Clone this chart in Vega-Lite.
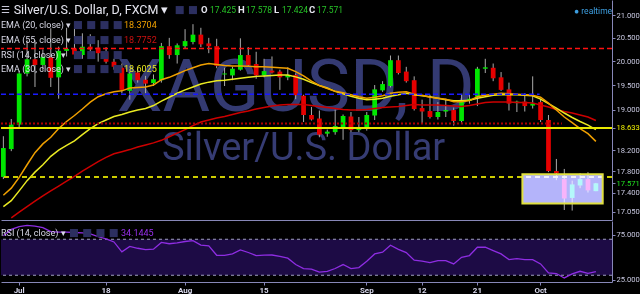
{
"$schema": "https://vega.github.io/schema/vega-lite/v6.json",
"background": "#000000",
"padding": 0,
"spacing": 0,
"config": {"view": {"stroke": null}, "font": "Roboto", "axis": {"labelFont": "Roboto", "grid": false, "title": null, "domainColor": "#8787b8", "tickColor": "#8787b8", "labelColor": "#c8c8e0", "labelFontSize": 7.6}},
"resolve": {"scale": {"x": "independent", "y": "independent"}},
"datasets": {"bars": [
{"d":"2016-06-29","o":17.69,"h":18.47,"l":17.65,"c":18.24,"e20":17.35,"e30":17.14,"e55":null,"rsi":74},
{"d":"2016-06-30","o":18.22,"h":18.81,"l":18.18,"c":18.70,"e20":17.48,"e30":17.25,"e55":16.94,"rsi":81},
{"d":"2016-07-01","o":18.70,"h":19.80,"l":18.62,"c":19.74,"e20":17.68,"e30":17.43,"e55":17.04,"rsi":84},
{"d":"2016-07-04","o":19.74,"h":20.45,"l":19.68,"c":20.04,"e20":17.92,"e30":17.62,"e55":17.14,"rsi":85.5},
{"d":"2016-07-05","o":20.04,"h":20.45,"l":19.46,"c":19.92,"e20":18.15,"e30":17.78,"e55":17.24,"rsi":84.5},
{"d":"2016-07-06","o":19.92,"h":20.25,"l":19.80,"c":20.09,"e20":18.32,"e30":17.92,"e55":17.34,"rsi":83},
{"d":"2016-07-07","o":20.08,"h":20.71,"l":19.46,"c":19.65,"e20":18.45,"e30":18.08,"e55":17.43,"rsi":78.5},
{"d":"2016-07-08","o":19.66,"h":20.31,"l":19.22,"c":20.22,"e20":18.62,"e30":18.20,"e55":17.52,"rsi":78},
{"d":"2016-07-11","o":20.22,"h":20.72,"l":20.10,"c":20.26,"e20":18.76,"e30":18.29,"e55":17.61,"rsi":78},
{"d":"2016-07-12","o":20.27,"h":20.85,"l":20.05,"c":20.14,"e20":18.88,"e30":18.38,"e55":17.70,"rsi":77.5},
{"d":"2016-07-13","o":20.13,"h":20.60,"l":20.05,"c":20.31,"e20":19.01,"e30":18.50,"e55":17.80,"rsi":77},
{"d":"2016-07-14","o":20.31,"h":20.58,"l":20.20,"c":20.25,"e20":19.15,"e30":18.62,"e55":17.89,"rsi":76},
{"d":"2016-07-15","o":20.29,"h":20.45,"l":19.99,"c":20.17,"e20":19.26,"e30":18.72,"e55":17.98,"rsi":73},
{"d":"2016-07-18","o":20.19,"h":20.30,"l":19.95,"c":19.99,"e20":19.32,"e30":18.79,"e55":18.06,"rsi":70.5},
{"d":"2016-07-19","o":19.99,"h":20.05,"l":19.82,"c":19.88,"e20":19.36,"e30":18.86,"e55":18.13,"rsi":67},
{"d":"2016-07-20","o":19.86,"h":19.95,"l":19.33,"c":19.40,"e20":19.38,"e30":18.90,"e55":18.17,"rsi":56},
{"d":"2016-07-21","o":19.38,"h":19.78,"l":19.20,"c":19.74,"e20":19.44,"e30":18.95,"e55":18.21,"rsi":62},
{"d":"2016-07-22","o":19.76,"h":19.85,"l":19.55,"c":19.60,"e20":19.45,"e30":18.99,"e55":18.26,"rsi":60},
{"d":"2016-07-25","o":19.61,"h":19.69,"l":19.33,"c":19.53,"e20":19.46,"e30":19.02,"e55":18.30,"rsi":58.5},
{"d":"2016-07-26","o":19.54,"h":19.72,"l":19.48,"c":19.62,"e20":19.50,"e30":19.08,"e55":18.34,"rsi":59},
{"d":"2016-07-27","o":19.60,"h":20.39,"l":19.55,"c":20.32,"e20":19.61,"e30":19.17,"e55":18.39,"rsi":66.5},
{"d":"2016-07-28","o":20.32,"h":20.50,"l":20.05,"c":20.13,"e20":19.66,"e30":19.25,"e55":18.46,"rsi":65},
{"d":"2016-07-29","o":20.13,"h":20.38,"l":19.95,"c":20.34,"e20":19.73,"e30":19.33,"e55":18.53,"rsi":66},
{"d":"2016-08-01","o":20.32,"h":20.69,"l":20.28,"c":20.43,"e20":19.80,"e30":19.40,"e55":18.60,"rsi":67.5},
{"d":"2016-08-02","o":20.41,"h":20.80,"l":20.36,"c":20.57,"e20":19.86,"e30":19.46,"e55":18.68,"rsi":68.5},
{"d":"2016-08-03","o":20.57,"h":20.72,"l":20.30,"c":20.36,"e20":19.92,"e30":19.52,"e55":18.75,"rsi":63.5},
{"d":"2016-08-04","o":20.38,"h":20.50,"l":20.17,"c":20.32,"e20":19.95,"e30":19.56,"e55":18.79,"rsi":62.6},
{"d":"2016-08-05","o":20.32,"h":20.48,"l":19.85,"c":19.90,"e20":19.93,"e30":19.59,"e55":18.83,"rsi":52.2},
{"d":"2016-08-08","o":19.72,"h":19.86,"l":19.48,"c":19.74,"e20":19.91,"e30":19.60,"e55":18.86,"rsi":52.2},
{"d":"2016-08-09","o":19.70,"h":19.88,"l":19.60,"c":19.84,"e20":19.90,"e30":19.62,"e55":18.90,"rsi":53.7},
{"d":"2016-08-10","o":19.82,"h":20.49,"l":19.80,"c":20.13,"e20":19.90,"e30":19.64,"e55":18.94,"rsi":58.1},
{"d":"2016-08-11","o":20.13,"h":20.30,"l":19.90,"c":19.92,"e20":19.89,"e30":19.66,"e55":18.97,"rsi":55.3},
{"d":"2016-08-12","o":19.94,"h":20.20,"l":19.63,"c":19.70,"e20":19.88,"e30":19.68,"e55":19.01,"rsi":51.9},
{"d":"2016-08-15","o":19.70,"h":20.05,"l":19.66,"c":19.79,"e20":19.88,"e30":19.69,"e55":19.04,"rsi":52.3},
{"d":"2016-08-16","o":19.80,"h":20.10,"l":19.74,"c":19.76,"e20":19.87,"e30":19.70,"e55":19.07,"rsi":52.5},
{"d":"2016-08-17","o":19.78,"h":19.82,"l":19.40,"c":19.66,"e20":19.86,"e30":19.71,"e55":19.09,"rsi":51},
{"d":"2016-08-18","o":19.66,"h":19.87,"l":19.60,"c":19.71,"e20":19.85,"e30":19.71,"e55":19.10,"rsi":49},
{"d":"2016-08-19","o":19.71,"h":19.74,"l":19.21,"c":19.29,"e20":19.78,"e30":19.67,"e55":19.10,"rsi":41.9},
{"d":"2016-08-22","o":19.28,"h":19.30,"l":18.75,"c":18.89,"e20":19.69,"e30":19.62,"e55":19.10,"rsi":37.4},
{"d":"2016-08-23","o":18.89,"h":19.05,"l":18.78,"c":18.80,"e20":19.58,"e30":19.55,"e55":19.08,"rsi":36.7},
{"d":"2016-08-24","o":18.82,"h":18.98,"l":18.45,"c":18.50,"e20":19.49,"e30":19.49,"e55":19.06,"rsi":33.5},
{"d":"2016-08-25","o":18.52,"h":18.60,"l":18.46,"c":18.56,"e20":19.43,"e30":19.44,"e55":19.04,"rsi":34.3},
{"d":"2016-08-26","o":18.55,"h":19.00,"l":18.50,"c":18.67,"e20":19.37,"e30":19.37,"e55":19.02,"rsi":37.5},
{"d":"2016-08-29","o":18.65,"h":18.90,"l":18.40,"c":18.87,"e20":19.34,"e30":19.32,"e55":19.00,"rsi":41.9},
{"d":"2016-08-30","o":18.86,"h":18.95,"l":18.55,"c":18.59,"e20":19.30,"e30":19.27,"e55":18.99,"rsi":37.4},
{"d":"2016-08-31","o":18.59,"h":18.85,"l":18.55,"c":18.64,"e20":19.26,"e30":19.23,"e55":18.99,"rsi":38.5},
{"d":"2016-09-01","o":18.62,"h":18.95,"l":18.58,"c":18.89,"e20":19.23,"e30":19.20,"e55":19.00,"rsi":45.6},
{"d":"2016-09-02","o":18.88,"h":19.50,"l":18.79,"c":19.41,"e20":19.25,"e30":19.21,"e55":19.02,"rsi":53.7},
{"d":"2016-09-05","o":19.39,"h":19.58,"l":19.36,"c":19.52,"e20":19.28,"e30":19.23,"e55":19.04,"rsi":55.6},
{"d":"2016-09-06","o":19.48,"h":20.12,"l":19.45,"c":20.02,"e20":19.33,"e30":19.27,"e55":19.05,"rsi":63.3},
{"d":"2016-09-07","o":20.02,"h":20.12,"l":19.72,"c":19.75,"e20":19.35,"e30":19.30,"e55":19.06,"rsi":58.8},
{"d":"2016-09-08","o":19.78,"h":19.88,"l":19.55,"c":19.58,"e20":19.36,"e30":19.33,"e55":19.08,"rsi":55.2},
{"d":"2016-09-09","o":19.60,"h":19.68,"l":18.98,"c":19.01,"e20":19.31,"e30":19.30,"e55":19.10,"rsi":46.7},
{"d":"2016-09-12","o":19.03,"h":19.20,"l":18.72,"c":18.96,"e20":19.29,"e30":19.28,"e55":19.09,"rsi":45.6},
{"d":"2016-09-13","o":18.97,"h":19.30,"l":18.82,"c":18.85,"e20":19.25,"e30":19.26,"e55":19.09,"rsi":44},
{"d":"2016-09-14","o":18.85,"h":19.15,"l":18.80,"c":18.95,"e20":19.23,"e30":19.23,"e55":19.09,"rsi":46.3},
{"d":"2016-09-15","o":18.96,"h":19.22,"l":18.85,"c":18.99,"e20":19.21,"e30":19.20,"e55":19.08,"rsi":46.3},
{"d":"2016-09-16","o":18.99,"h":19.04,"l":18.68,"c":18.77,"e20":19.16,"e30":19.18,"e55":19.07,"rsi":42.6},
{"d":"2016-09-19","o":18.77,"h":19.30,"l":18.74,"c":19.17,"e20":19.16,"e30":19.18,"e55":19.06,"rsi":50},
{"d":"2016-09-20","o":19.18,"h":19.30,"l":19.12,"c":19.22,"e20":19.18,"e30":19.19,"e55":19.08,"rsi":51.9},
{"d":"2016-09-21","o":19.26,"h":19.88,"l":19.07,"c":19.84,"e20":19.26,"e30":19.23,"e55":19.11,"rsi":61.1},
{"d":"2016-09-22","o":19.84,"h":20.05,"l":19.75,"c":19.87,"e20":19.29,"e30":19.26,"e55":19.14,"rsi":61.1},
{"d":"2016-09-23","o":19.86,"h":19.95,"l":19.58,"c":19.64,"e20":19.31,"e30":19.29,"e55":19.15,"rsi":57.4},
{"d":"2016-09-26","o":19.66,"h":19.77,"l":19.38,"c":19.40,"e20":19.33,"e30":19.30,"e55":19.15,"rsi":53.7},
{"d":"2016-09-27","o":19.41,"h":19.55,"l":18.98,"c":19.12,"e20":19.32,"e30":19.30,"e55":19.15,"rsi":47.4},
{"d":"2016-09-28","o":19.13,"h":19.18,"l":18.95,"c":19.16,"e20":19.31,"e30":19.30,"e55":19.14,"rsi":48.5},
{"d":"2016-09-29","o":19.16,"h":19.33,"l":18.96,"c":19.07,"e20":19.30,"e30":19.29,"e55":19.14,"rsi":47.4},
{"d":"2016-09-30","o":19.08,"h":19.68,"l":19.02,"c":19.12,"e20":19.29,"e30":19.28,"e55":19.13,"rsi":47.4},
{"d":"2016-10-03","o":19.15,"h":19.22,"l":18.75,"c":18.79,"e20":19.25,"e30":19.21,"e55":19.09,"rsi":42.6},
{"d":"2016-10-04","o":18.79,"h":18.89,"l":17.78,"c":17.80,"e20":19.13,"e30":19.12,"e55":19.05,"rsi":32.6},
{"d":"2016-10-05","o":17.80,"h":18.03,"l":17.63,"c":17.76,"e20":18.99,"e30":19.03,"e55":19.00,"rsi":31.9},
{"d":"2016-10-06","o":17.65,"h":17.84,"l":17.08,"c":17.29,"e20":18.85,"e30":18.93,"e55":18.96,"rsi":27},
{"d":"2016-10-07","o":17.30,"h":17.62,"l":17.07,"c":17.55,"e20":18.74,"e30":18.84,"e55":18.93,"rsi":31.5},
{"d":"2016-10-10","o":17.53,"h":17.76,"l":17.48,"c":17.65,"e20":18.62,"e30":18.76,"e55":18.89,"rsi":34.4},
{"d":"2016-10-11","o":17.65,"h":17.78,"l":17.40,"c":17.44,"e20":18.52,"e30":18.69,"e55":18.85,"rsi":32.2},
{"d":"2016-10-12","o":17.425,"h":17.578,"l":17.424,"c":17.571,"e20":18.37,"e30":18.60,"e55":18.78,"rsi":34.14}
]},
"vconcat": [
{
"width": 611, "height": 220,
"layer": [
{"data": {"values": [{"t": "XAGUSD, D"}]}, "mark": {"type": "text", "fontSize": 73, "color": "#343a72", "align": "center", "baseline": "alphabetic"},
 "encoding": {"x": {"datum": "2016-08-19", "type": "ordinal", "bandPosition": 0.5}, "y": {"datum": 18.97, "type": "quantitative"}, "text": {"field": "t"}}},
{"data": {"values": [{"t": "Silver/U.S. Dollar"}]}, "mark": {"type": "text", "fontSize": 38, "color": "#363c74", "align": "center", "baseline": "alphabetic"},
 "encoding": {"x": {"datum": "2016-08-22", "type": "ordinal", "bandPosition": 0.5}, "y": {"datum": 18.01, "type": "quantitative"}, "text": {"field": "t"}}},
{"data": {"name": "bars"}, "mark": {"type": "rule", "color": "#aaaaaa", "strokeWidth": 1},
 "encoding": {
  "x": {"field": "d", "type": "ordinal", "bandPosition": 0.5,
   "scale": {"type": "band", "paddingInner": 0.4, "paddingOuter": 0.37, "align": 0, "round": false, "domain": ["2016-06-29","2016-06-30","2016-07-01","2016-07-04","2016-07-05","2016-07-06","2016-07-07","2016-07-08","2016-07-11","2016-07-12","2016-07-13","2016-07-14","2016-07-15","2016-07-18","2016-07-19","2016-07-20","2016-07-21","2016-07-22","2016-07-25","2016-07-26","2016-07-27","2016-07-28","2016-07-29","2016-08-01","2016-08-02","2016-08-03","2016-08-04","2016-08-05","2016-08-08","2016-08-09","2016-08-10","2016-08-11","2016-08-12","2016-08-15","2016-08-16","2016-08-17","2016-08-18","2016-08-19","2016-08-22","2016-08-23","2016-08-24","2016-08-25","2016-08-26","2016-08-29","2016-08-30","2016-08-31","2016-09-01","2016-09-02","2016-09-05","2016-09-06","2016-09-07","2016-09-08","2016-09-09","2016-09-12","2016-09-13","2016-09-14","2016-09-15","2016-09-16","2016-09-19","2016-09-20","2016-09-21","2016-09-22","2016-09-23","2016-09-26","2016-09-27","2016-09-28","2016-09-29","2016-09-30","2016-10-03","2016-10-04","2016-10-05","2016-10-06","2016-10-07","2016-10-10","2016-10-11","2016-10-12","2016-10-13"]},
   "axis": {"labels": false, "ticks": false, "domain": true, "title": null}},
  "y": {"field": "l", "type": "quantitative",
   "scale": {"type": "log", "domain": [16.9, 21.34], "nice": false, "zero": false},
   "axis": {"orient": "right", "title": null, "values": [17.05, 17.4, 17.571, 17.8, 18.2, 18.633, 19, 19.5, 20, 20.5, 21], "format": ".3f", "tickSize": 3, "labelPadding": 1, "labelOverlap": false,
    "labelColor": {"condition": [{"test": "abs(datum.value-18.633)<0.001", "value": "#f0f000"}, {"test": "abs(datum.value-17.571)<0.001", "value": "#20e020"}], "value": "#c8c8e0"}}},
  "y2": {"field": "h"}}},
{"data": {"name": "bars"}, "mark": {"type": "bar"},
 "encoding": {"x": {"field": "d", "type": "ordinal"}, "y": {"field": "o", "type": "quantitative"}, "y2": {"field": "c"},
  "color": {"condition": {"test": "datum.c >= datum.o", "value": "#00e600"}, "value": "#e60000"}}},
{"data": {"name": "bars"}, "mark": {"type": "line", "color": "#cc0000", "strokeWidth": 1.5},
 "encoding": {"x": {"field": "d", "type": "ordinal", "bandPosition": 0.5}, "y": {"field": "e55", "type": "quantitative"}}},
{"data": {"name": "bars"}, "mark": {"type": "line", "color": "#eaea22", "strokeWidth": 1.5},
 "encoding": {"x": {"field": "d", "type": "ordinal", "bandPosition": 0.5}, "y": {"field": "e30", "type": "quantitative"}}},
{"data": {"name": "bars"}, "mark": {"type": "line", "color": "#f0a000", "strokeWidth": 1.5},
 "encoding": {"x": {"field": "d", "type": "ordinal", "bandPosition": 0.5}, "y": {"field": "e20", "type": "quantitative"}}},
{"data": {"values": [{}]}, "mark": {"type": "rule", "color": "#ff1010", "strokeWidth": 1.6, "strokeDash": [5, 3]},
 "encoding": {"y": {"datum": 20.27, "type": "quantitative"}}},
{"data": {"values": [{}]}, "mark": {"type": "rule", "color": "#1a1aff", "strokeWidth": 1.6, "strokeDash": [5, 3]},
 "encoding": {"x": {"datum": "2016-06-29", "type": "ordinal", "bandPosition": 0}, "x2": {"datum": "2016-10-03", "bandPosition": 0.3}, "y": {"datum": 19.31, "type": "quantitative"}}},
{"data": {"values": [{}]}, "mark": {"type": "rule", "color": "#b00000", "strokeWidth": 2, "strokeDash": [2, 2]},
 "encoding": {"x": {"datum": "2016-06-29", "type": "ordinal", "bandPosition": 0}, "x2": {"datum": "2016-10-06", "bandPosition": 0}, "y": {"datum": 18.72, "type": "quantitative"}}},
{"data": {"values": [{}]}, "mark": {"type": "rule", "color": "#e8e800", "strokeWidth": 2},
 "encoding": {"y": {"datum": 18.633, "type": "quantitative"}}},
{"data": {"values": [{}]}, "mark": {"type": "rule", "color": "#cccc00", "strokeWidth": 2, "strokeDash": [5, 4]},
 "encoding": {"y": {"datum": 17.69, "type": "quantitative"}}},
{"data": {"values": [{}]}, "mark": {"type": "rect", "color": "#b4b4fa", "blend": "screen"},
 "encoding": {"x": {"datum": "2016-09-29", "type": "ordinal", "bandPosition": 0}, "x2": {"datum": "2016-10-13", "bandPosition": 0.27}, "y": {"datum": 17.74, "type": "quantitative"}, "y2": {"datum": 17.20}}},
{"data": {"values": [{}]}, "mark": {"type": "rect", "filled": false, "stroke": "#e0e040", "strokeWidth": 2},
 "encoding": {"x": {"datum": "2016-09-29", "type": "ordinal", "bandPosition": 0}, "x2": {"datum": "2016-10-13", "bandPosition": 0.27}, "y": {"datum": 17.74, "type": "quantitative"}, "y2": {"datum": 17.20}}},
{"data": {"values": [{"t": "☰"}]}, "mark": {"type": "text", "fontSize": 10, "color": "#c8c8d8", "align": "left", "baseline": "middle", "font": "DejaVu Sans"},
 "encoding": {"x": {"datum": "2016-06-29", "type": "ordinal", "bandPosition": 0}, "y": {"datum": 21.11, "type": "quantitative"}, "text": {"field": "t"}}},
{"data": {"values": [{"t": "Silver/U.S. Dollar, D, FXCM ▾"}]}, "mark": {"type": "text", "fontSize": 12.5, "color": "#e6e6f0", "align": "left", "baseline": "middle"},
 "encoding": {"x": {"datum": "2016-06-30", "type": "ordinal", "bandPosition": 1}, "y": {"datum": 21.11, "type": "quantitative"}, "text": {"field": "t"}}},
{"data": {"values": [{"t": "■ ■"}]}, "mark": {"type": "text", "fontSize": 10.5, "color": "#2c2f60", "align": "left", "baseline": "middle", "font": "DejaVu Sans"},
 "encoding": {"x": {"datum": "2016-07-29", "type": "ordinal", "bandPosition": 0}, "y": {"datum": 21.11, "type": "quantitative"}, "text": {"field": "t"}}},
{"data": {"values": [{"t": "O"}]}, "mark": {"type": "text", "fontSize": 9.5, "fontWeight": "bold", "color": "#e6e6f0", "align": "left", "baseline": "middle"},
 "encoding": {"x": {"datum": "2016-08-03", "type": "ordinal", "bandPosition": 0.53}, "y": {"datum": 21.11, "type": "quantitative"}, "text": {"field": "t"}}},
{"data": {"values": [{"t": "17.425"}]}, "mark": {"type": "text", "fontSize": 8.5, "color": "#27c227", "align": "left", "baseline": "middle"},
 "encoding": {"x": {"datum": "2016-08-04", "type": "ordinal", "bandPosition": 0.76}, "y": {"datum": 21.11, "type": "quantitative"}, "text": {"field": "t"}}},
{"data": {"values": [{"t": "H"}]}, "mark": {"type": "text", "fontSize": 9.5, "fontWeight": "bold", "color": "#e6e6f0", "align": "left", "baseline": "middle"},
 "encoding": {"x": {"datum": "2016-08-10", "type": "ordinal", "bandPosition": 0}, "y": {"datum": 21.11, "type": "quantitative"}, "text": {"field": "t"}}},
{"data": {"values": [{"t": "17.578"}]}, "mark": {"type": "text", "fontSize": 8.5, "color": "#27c227", "align": "left", "baseline": "middle"},
 "encoding": {"x": {"datum": "2016-08-11", "type": "ordinal", "bandPosition": 0}, "y": {"datum": 21.11, "type": "quantitative"}, "text": {"field": "t"}}},
{"data": {"values": [{"t": "L"}]}, "mark": {"type": "text", "fontSize": 9.5, "fontWeight": "bold", "color": "#e6e6f0", "align": "left", "baseline": "middle"},
 "encoding": {"x": {"datum": "2016-08-16", "type": "ordinal", "bandPosition": 0.93}, "y": {"datum": 21.11, "type": "quantitative"}, "text": {"field": "t"}}},
{"data": {"values": [{"t": "17.424"}]}, "mark": {"type": "text", "fontSize": 8.5, "color": "#27c227", "align": "left", "baseline": "middle"},
 "encoding": {"x": {"datum": "2016-08-17", "type": "ordinal", "bandPosition": 0.95}, "y": {"datum": 21.11, "type": "quantitative"}, "text": {"field": "t"}}},
{"data": {"values": [{"t": "C"}]}, "mark": {"type": "text", "fontSize": 9.5, "fontWeight": "bold", "color": "#e6e6f0", "align": "left", "baseline": "middle"},
 "encoding": {"x": {"datum": "2016-08-23", "type": "ordinal", "bandPosition": 0}, "y": {"datum": 21.11, "type": "quantitative"}, "text": {"field": "t"}}},
{"data": {"values": [{"t": "17.571"}]}, "mark": {"type": "text", "fontSize": 8.5, "color": "#27c227", "align": "left", "baseline": "middle"},
 "encoding": {"x": {"datum": "2016-08-24", "type": "ordinal", "bandPosition": 0}, "y": {"datum": 21.11, "type": "quantitative"}, "text": {"field": "t"}}},
{"data": {"values": [{"t": "● realtime"}]}, "mark": {"type": "text", "fontSize": 8.5, "color": "#3d9ee0", "align": "left", "baseline": "middle"},
 "encoding": {"x": {"datum": "2016-10-07", "type": "ordinal", "bandPosition": 0.9}, "y": {"datum": 21.09, "type": "quantitative"}, "text": {"field": "t"}}},
{"data": {"values": [{"t": "EMA (20, close) ▾"}]}, "mark": {"type": "text", "fontSize": 9, "color": "#d8d8e6", "align": "left", "baseline": "middle"},
 "encoding": {"x": {"datum": "2016-06-29", "type": "ordinal", "bandPosition": 0}, "y": {"datum": 20.78, "type": "quantitative"}, "text": {"field": "t"}}},
{"data": {"values": [{"t": "EMA (55, close) ▾"}]}, "mark": {"type": "text", "fontSize": 9, "color": "#d8d8e6", "align": "left", "baseline": "middle"},
 "encoding": {"x": {"datum": "2016-06-29", "type": "ordinal", "bandPosition": 0}, "y": {"datum": 20.45, "type": "quantitative"}, "text": {"field": "t"}}},
{"data": {"values": [{"t": "RSI (14, close) ▾"}]}, "mark": {"type": "text", "fontSize": 9, "color": "#d8d8e6", "align": "left", "baseline": "middle"},
 "encoding": {"x": {"datum": "2016-06-29", "type": "ordinal", "bandPosition": 0}, "y": {"datum": 20.14, "type": "quantitative"}, "text": {"field": "t"}}},
{"data": {"values": [{"t": "EMA (30, close) ▾"}]}, "mark": {"type": "text", "fontSize": 9, "color": "#d8d8e6", "align": "left", "baseline": "middle"},
 "encoding": {"x": {"datum": "2016-06-29", "type": "ordinal", "bandPosition": 0}, "y": {"datum": 19.84, "type": "quantitative"}, "text": {"field": "t"}}},
{"data": {"values": [{"t": "■ ■ ■ ■"}]}, "mark": {"type": "text", "fontSize": 10.5, "color": "#2c2f60", "align": "left", "baseline": "middle", "font": "DejaVu Sans"},
 "encoding": {"x": {"datum": "2016-07-12", "type": "ordinal", "bandPosition": 0.2}, "y": {"datum": 20.78, "type": "quantitative"}, "text": {"field": "t"}}},
{"data": {"values": [{"t": "■ ■ ■ ■"}]}, "mark": {"type": "text", "fontSize": 10.5, "color": "#2c2f60", "align": "left", "baseline": "middle", "font": "DejaVu Sans"},
 "encoding": {"x": {"datum": "2016-07-12", "type": "ordinal", "bandPosition": 0.2}, "y": {"datum": 20.45, "type": "quantitative"}, "text": {"field": "t"}}},
{"data": {"values": [{"t": "■ ■ ■ ■"}]}, "mark": {"type": "text", "fontSize": 10.5, "color": "#2c2f60", "align": "left", "baseline": "middle", "font": "DejaVu Sans"},
 "encoding": {"x": {"datum": "2016-07-12", "type": "ordinal", "bandPosition": 0.2}, "y": {"datum": 20.14, "type": "quantitative"}, "text": {"field": "t"}}},
{"data": {"values": [{"t": "■ ■ ■ ■"}]}, "mark": {"type": "text", "fontSize": 10.5, "color": "#2c2f60", "align": "left", "baseline": "middle", "font": "DejaVu Sans"},
 "encoding": {"x": {"datum": "2016-07-12", "type": "ordinal", "bandPosition": 0.2}, "y": {"datum": 19.84, "type": "quantitative"}, "text": {"field": "t"}}},
{"data": {"values": [{"t": "18.3704"}]}, "mark": {"type": "text", "fontSize": 9, "color": "#f0a000", "align": "left", "baseline": "middle"},
 "encoding": {"x": {"datum": "2016-07-20", "type": "ordinal", "bandPosition": 0.95}, "y": {"datum": 20.78, "type": "quantitative"}, "text": {"field": "t"}}},
{"data": {"values": [{"t": "18.7752"}]}, "mark": {"type": "text", "fontSize": 9, "color": "#cc1010", "align": "left", "baseline": "middle"},
 "encoding": {"x": {"datum": "2016-07-20", "type": "ordinal", "bandPosition": 0.95}, "y": {"datum": 20.45, "type": "quantitative"}, "text": {"field": "t"}}},
{"data": {"values": [{"t": "18.6025"}]}, "mark": {"type": "text", "fontSize": 9, "color": "#e8e820", "align": "left", "baseline": "middle"},
 "encoding": {"x": {"datum": "2016-07-20", "type": "ordinal", "bandPosition": 0.95}, "y": {"datum": 19.84, "type": "quantitative"}, "text": {"field": "t"}}}
]
},
{
"width": 611, "height": 61,
"layer": [
{"data": {"values": [{}]}, "mark": {"type": "rect", "color": "#1d0b45"},
 "encoding": {"y": {"datum": 70, "type": "quantitative"}, "y2": {"datum": 30}}},
{"data": {"values": [{}]}, "mark": {"type": "rule", "color": "#a0a0c0", "strokeWidth": 1, "strokeDash": [3, 3]},
 "encoding": {"y": {"datum": 70, "type": "quantitative"}}},
{"data": {"values": [{}]}, "mark": {"type": "rule", "color": "#a0a0c0", "strokeWidth": 1, "strokeDash": [3, 3]},
 "encoding": {"y": {"datum": 30, "type": "quantitative"}}},
{"data": {"name": "bars"}, "mark": {"type": "line", "color": "#8e2de2", "strokeWidth": 1.3},
 "encoding": {
  "x": {"field": "d", "type": "ordinal", "bandPosition": 0.5,
   "scale": {"type": "band", "paddingInner": 0.4, "paddingOuter": 0.37, "align": 0, "round": false, "domain": ["2016-06-29","2016-06-30","2016-07-01","2016-07-04","2016-07-05","2016-07-06","2016-07-07","2016-07-08","2016-07-11","2016-07-12","2016-07-13","2016-07-14","2016-07-15","2016-07-18","2016-07-19","2016-07-20","2016-07-21","2016-07-22","2016-07-25","2016-07-26","2016-07-27","2016-07-28","2016-07-29","2016-08-01","2016-08-02","2016-08-03","2016-08-04","2016-08-05","2016-08-08","2016-08-09","2016-08-10","2016-08-11","2016-08-12","2016-08-15","2016-08-16","2016-08-17","2016-08-18","2016-08-19","2016-08-22","2016-08-23","2016-08-24","2016-08-25","2016-08-26","2016-08-29","2016-08-30","2016-08-31","2016-09-01","2016-09-02","2016-09-05","2016-09-06","2016-09-07","2016-09-08","2016-09-09","2016-09-12","2016-09-13","2016-09-14","2016-09-15","2016-09-16","2016-09-19","2016-09-20","2016-09-21","2016-09-22","2016-09-23","2016-09-26","2016-09-27","2016-09-28","2016-09-29","2016-09-30","2016-10-03","2016-10-04","2016-10-05","2016-10-06","2016-10-07","2016-10-10","2016-10-11","2016-10-12","2016-10-13"]},
   "axis": {"title": null, "values": ["2016-07-01","2016-07-18","2016-08-01","2016-08-15","2016-09-01","2016-09-12","2016-09-21","2016-10-03"],
    "labelExpr": "datum.value=='2016-07-01'?'Jul':datum.value=='2016-07-18'?'18':datum.value=='2016-08-01'?'Aug':datum.value=='2016-08-15'?'15':datum.value=='2016-09-01'?'Sep':datum.value=='2016-09-12'?'12':datum.value=='2016-09-21'?'21':'Oct'",
    "labelAngle": 0, "tickSize": 3, "labelPadding": 1, "labelFontWeight": "bold", "labelFontSize": 8, "labelColor": "#d8d8ec"}},
  "y": {"field": "rsi", "type": "quantitative",
   "scale": {"domain": [22.5, 90.3], "nice": false, "zero": false},
   "axis": {"orient": "right", "title": null, "values": [25, 50, 75], "format": ".4f", "tickSize": 3, "labelPadding": 1}}}},
{"data": {"values": [{"t": "RSI (14, close) ▾"}]}, "mark": {"type": "text", "fontSize": 9, "color": "#d8d8e6", "align": "left", "baseline": "middle"},
 "encoding": {"x": {"datum": "2016-06-29", "type": "ordinal", "bandPosition": 0}, "y": {"datum": 77.5, "type": "quantitative"}, "text": {"field": "t"}}},
{"data": {"values": [{"t": "■ ■ ■ ■"}]}, "mark": {"type": "text", "fontSize": 10.5, "color": "#2c2f60", "align": "left", "baseline": "middle", "font": "DejaVu Sans"},
 "encoding": {"x": {"datum": "2016-07-11", "type": "ordinal", "bandPosition": 1}, "y": {"datum": 77.5, "type": "quantitative"}, "text": {"field": "t"}}},
{"data": {"values": [{"t": "34.1445"}]}, "mark": {"type": "text", "fontSize": 9, "color": "#9a30f0", "align": "left", "baseline": "middle"},
 "encoding": {"x": {"datum": "2016-07-20", "type": "ordinal", "bandPosition": 0.3}, "y": {"datum": 77.5, "type": "quantitative"}, "text": {"field": "t"}}}
]
}
]
}
